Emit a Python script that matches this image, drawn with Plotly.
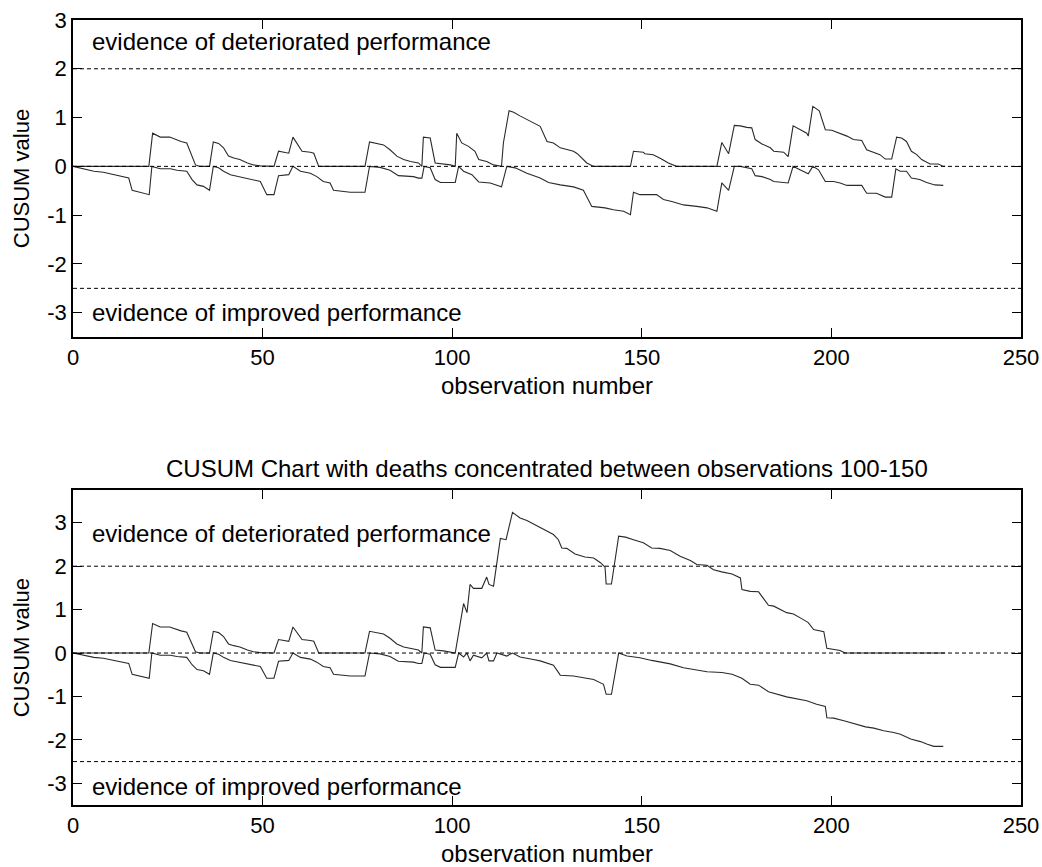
import plotly.graph_objects as go

# ---------------- data ----------------
# shared first part (observations 0 .. ~101), identical in both charts
up_common_x = [0, 20, 21, 23, 25.5, 27, 28.5, 30, 31, 32.3, 33.4, 36, 37, 38.4, 39.7, 41, 42.4, 44, 46, 47.6, 49.4, 53,
               54.2, 56.9, 58, 59.5, 60.4, 62.6, 63.5, 64.8, 77, 78.2, 79.7, 81.9, 83.6, 85.4, 87.2, 89, 91.1, 92,
               92.4, 94.2, 95.5, 97.7, 99.5, 100.8]
up_common_y = [0, 0, 0.68, 0.60, 0.60, 0.55, 0.51, 0.48, 0.27, 0.03, 0, 0, 0.50, 0.47, 0.38, 0.21, 0.17, 0.14, 0.07, 0.03, 0.01, 0,
               0.31, 0.27, 0.60, 0.41, 0.31, 0.29, 0.27, 0, 0, 0.50, 0.47, 0.44, 0.34, 0.21, 0.14, 0.10, 0.07, 0,
               0.60, 0.58, 0.07, 0.05, 0.03, 0]
lo_common_x = [0, 1.9, 5.5, 8, 10.7, 12.5, 14.7, 15.6, 17.8, 19.1, 20.1, 20.8, 23, 25.7, 27.4, 30, 31.4, 32.7, 34.4, 36,
               37, 38.4, 39.7, 41.5, 43.7, 45.9, 49.4, 51.1, 53, 54.2, 56.9, 58, 60, 62.6, 64.3, 66, 67.8, 68.7, 73.1, 77,
               78.2, 81, 83.6, 85.8, 89.8, 91.1, 92, 92.6, 94.2, 95.5, 96.9, 100.8]
lo_common_y = [0, -0.03, -0.10, -0.12, -0.17, -0.20, -0.24, -0.49, -0.53, -0.55, -0.58, 0, -0.05, -0.05, -0.08, -0.10, -0.27, -0.38, -0.41, -0.49,
               0, -0.03, -0.10, -0.17, -0.21, -0.24, -0.31, -0.58, -0.58, -0.19, -0.17, 0, -0.10, -0.14, -0.21, -0.31, -0.34, -0.49, -0.53, -0.53,
               0, -0.02, -0.08, -0.19, -0.21, -0.24, -0.24, 0, -0.03, -0.27, -0.33, -0.33]

# top chart, observations after ~101
up_top_x = [101.2, 102.5, 104.3, 106, 107, 109.1, 110.9, 113, 113.5, 115, 116.2, 118, 121.4, 123.2, 125, 126.7, 128.5,
            132, 133, 135.5, 137.3, 147, 147.8, 150.4, 150.8, 153, 155.2, 157, 159.2, 169.8, 171.1, 172.9, 174.4,
            176, 177.7, 179, 179.9, 181.7, 183.9, 184.8, 187.4, 188.6, 189.9, 191.7, 193.5, 193.9, 195.1, 196.8,
            198.4, 200.1, 202.3, 204.1, 205.8, 208, 209.3, 211, 212.8, 214.2, 215.9, 217.2, 218.5, 219.8, 221.1,
            222.5, 223.8, 226, 228.2, 229.5, 230]
up_top_y = [0.68, 0.48, 0.41, 0.31, 0.14, 0.10, 0.03, 0, 0.48, 1.14, 1.11, 1.03, 0.89, 0.82, 0.51, 0.48, 0.38,
            0.31, 0.26, 0.07, 0, 0, 0.31, 0.29, 0.26, 0.24, 0.15, 0.07, 0, 0, 0.49, 0.26, 0.84,
            0.83, 0.80, 0.79, 0.55, 0.46, 0.38, 0.31, 0.29, 0.20, 0.83, 0.75, 0.68, 0.62, 1.23, 1.14,
            0.75, 0.74, 0.68, 0.62, 0.55, 0.53, 0.34, 0.29, 0.24, 0.15, 0.15, 0.60, 0.58, 0.51, 0.31,
            0.24, 0.14, 0.05, 0.05, 0, 0]
lo_top_x = [101.7, 103, 105.2, 107, 110, 113, 114.4, 116.6, 119.7, 123.2, 125.4, 128.5, 132, 134.6, 136.8, 140.3, 142.5,
            145.2, 147, 147.8, 149.5, 153.9, 155.7, 157.9, 161, 164.5, 167.2, 169.8, 171.1, 172.9, 174.4, 176, 177.7,
            179, 179.9, 181.7, 183.9, 184.8, 188.6, 189.9, 191.7, 193.9, 195.1, 196.6, 198.4, 200.6, 202.3, 204.1,
            208, 209.3, 211.9, 214.2, 215.9, 217, 218.1, 219.8, 221.1, 223.3, 225.1, 227.3, 229.5]
lo_top_y = [0, -0.10, -0.17, -0.32, -0.34, -0.42, 0, -0.03, -0.14, -0.24, -0.33, -0.38, -0.42, -0.49, -0.82, -0.85, -0.89,
            -0.92, -0.99, -0.53, -0.58, -0.58, -0.68, -0.72, -0.79, -0.82, -0.85, -0.92, -0.34, -0.49, 0, 0, -0.03,
            -0.05, -0.19, -0.21, -0.27, -0.31, -0.34, 0, -0.07, -0.15, 0, -0.07, -0.31, -0.31, -0.34, -0.39,
            -0.39, -0.55, -0.55, -0.63, -0.63, -0.05, -0.10, -0.10, -0.24, -0.27, -0.33, -0.38, -0.39]

# bottom chart (deaths concentrated between observations 100-150), after ~101
up_bot_x = [103, 103.9, 104.7, 105.6, 107.8, 109.1, 109.7, 110.9, 112.7, 114.2, 115.9, 117.9, 119.7, 121.4, 123.2, 125,
            126.7, 128, 128.9, 130.2, 132.4, 135, 137.3, 139.1, 140.3, 140.6, 142, 143.9, 145.7, 147.8, 150.4, 152.6,
            154.8, 157.5, 160.1, 162.8, 164.5, 167.2, 168.9, 171.1, 173.8, 176, 176.4, 178.6, 180.8, 183.4, 184.8,
            188.2, 190, 192.6, 193.9, 195.3, 198, 198.8, 200.6, 202.3, 203.6, 230]
up_bot_y = [1.14, 0.93, 1.58, 1.49, 1.49, 1.75, 1.58, 1.54, 2.64, 2.61, 3.24, 3.11, 3.05, 2.97, 2.88, 2.81,
            2.73, 2.61, 2.42, 2.41, 2.28, 2.21, 2.19, 2.08, 1.98, 1.59, 1.59, 2.69, 2.67, 2.61, 2.54, 2.42,
            2.41, 2.36, 2.23, 2.13, 2.04, 2.02, 1.92, 1.87, 1.82, 1.73, 1.46, 1.42, 1.41, 1.10, 1.08,
            0.93, 0.90, 0.77, 0.70, 0.54, 0.49, 0.11, 0.09, 0.06, 0, 0]
lo_bot_x = [101.7, 103, 103.9, 104.7, 105.6, 107.8, 109.1, 109.7, 110.9, 111.8, 112.7, 114.4, 115.9, 117.9, 121.4, 123.2,
            126.7, 128.5, 132, 135, 137.3, 139.9, 140.6, 142, 143.9, 146.1, 149.5, 152.6, 154.8, 157.5, 161, 164.5,
            167.2, 171.1, 173.8, 176.4, 178.6, 180.8, 183.4, 188.2, 191.7, 193.5, 196.1, 198.4, 198.8, 200.6, 203.3,
            205.9, 209, 211.2, 213.8, 216.4, 218.2, 220.9, 223.5, 225.3, 227, 229.5]
lo_bot_y = [0, -0.09, 0, -0.18, -0.05, -0.11, 0, -0.18, -0.18, 0, -0.03, -0.07, 0, -0.09, -0.15, -0.18,
            -0.28, -0.51, -0.53, -0.58, -0.61, -0.72, -0.95, -0.95, 0, -0.07, -0.11, -0.17, -0.20, -0.25, -0.34, -0.40,
            -0.43, -0.45, -0.49, -0.58, -0.72, -0.74, -0.89, -1.01, -1.07, -1.10, -1.18, -1.23, -1.49, -1.50, -1.56,
            -1.62, -1.70, -1.73, -1.79, -1.83, -1.87, -1.98, -2.04, -2.10, -2.15, -2.15]

threshold_upper = 2
threshold_lower = -2.5
center_line = 0
x_limits = [0, 250]
x_ticks = [0, 50, 100, 150, 200, 250]
x_ticklabels = ["0", "50", "100", "150", "200", "250"]
y_ticks = [-3, -2, -1, 0, 1, 2, 3]
y_ticklabels = ["-3", "-2", "-1", "0", "1", "2", "3"]
top_y_range = [-3.5, 3.0]
bot_y_range = [-3.5, 3.75]

title_bottom = "CUSUM Chart with deaths concentrated between observations 100-150"
text_det = "evidence of deteriorated performance"
text_imp = "evidence of improved performance"
x_title = "observation number"
y_title = "CUSUM value"

# ---------------- figure ----------------
FONT = "Liberation Sans, Arial, Helvetica, sans-serif"
FS_TICK = 22
FS_TEXT = 24
FS_YTITLE = 22
LINE_COLOR = "#2a2a2a"

fig = go.Figure()

def add_panel(xa, ya, ux, uy, lx, ly):
    for xs, ys in ((ux, uy), (lx, ly)):
        fig.add_trace(go.Scatter(x=xs, y=ys, mode="lines", xaxis=xa, yaxis=ya,
                                 line=dict(color=LINE_COLOR, width=1.1), showlegend=False,
                                 hoverinfo="skip"))
    for lvl in (threshold_upper, center_line, threshold_lower):
        fig.add_trace(go.Scatter(x=x_limits, y=[lvl, lvl], mode="lines", xaxis=xa, yaxis=ya,
                                 line=dict(color="black", width=1, dash="4px,3px"),
                                 showlegend=False, hoverinfo="skip"))

add_panel("x", "y", up_common_x + up_top_x, up_common_y + up_top_y,
          lo_common_x + lo_top_x, lo_common_y + lo_top_y)
add_panel("x2", "y2", up_common_x + up_bot_x, up_common_y + up_bot_y,
          lo_common_x + lo_bot_x, lo_common_y + lo_bot_y)

axis_common = dict(showline=True, linecolor="black", linewidth=1.6, mirror="ticks",
                   ticks="inside", ticklen=9, tickwidth=1, tickcolor="black",
                   showgrid=False, zeroline=False, automargin=False,
                   tickfont=dict(family=FONT, size=FS_TICK, color="black"))

xt = dict(text=x_title, font=dict(family=FONT, size=FS_TEXT), standoff=8)
yt = dict(text=y_title, font=dict(family=FONT, size=FS_YTITLE), standoff=12)

fig.update_layout(
    width=1042, height=867,
    margin=dict(l=73, r=21, t=20, b=62),
    paper_bgcolor="white", plot_bgcolor="white",
    font=dict(family=FONT, size=FS_TICK, color="black"),
    xaxis=dict(domain=[0, 1], range=x_limits, tickvals=x_ticks, ticktext=x_ticklabels, anchor="y",
               title=xt, **axis_common),
    yaxis=dict(domain=[0.596, 1], range=top_y_range, tickvals=y_ticks, ticktext=y_ticklabels, anchor="x",
               title=yt, **axis_common),
    xaxis2=dict(domain=[0, 1], range=x_limits, tickvals=x_ticks, ticktext=x_ticklabels, anchor="y2",
                title=xt, **axis_common),
    yaxis2=dict(domain=[0, 0.401], range=bot_y_range, tickvals=y_ticks, ticktext=y_ticklabels, anchor="x2",
                title=yt, **axis_common),
)

ann = [
    dict(x=4.4, y=2.55, xref="x", yref="y", text=text_det),
    dict(x=4.4, y=-3.0, xref="x", yref="y", text=text_imp),
    dict(x=4.4, y=2.76, xref="x2", yref="y2", text=text_det),
    dict(x=4.4, y=-3.08, xref="x2", yref="y2", text=text_imp),
]
for a in ann:
    fig.add_annotation(**a, xanchor="left", yanchor="middle", showarrow=False,
                       font=dict(family=FONT, size=FS_TEXT, color="black"))

fig.add_annotation(x=0.5, y=0.401, xref="paper", yref="paper", yshift=6,
                   text=title_bottom, showarrow=False, xanchor="center", yanchor="bottom",
                   font=dict(family=FONT, size=FS_TEXT, color="black"))

fig.write_html("out.html")
